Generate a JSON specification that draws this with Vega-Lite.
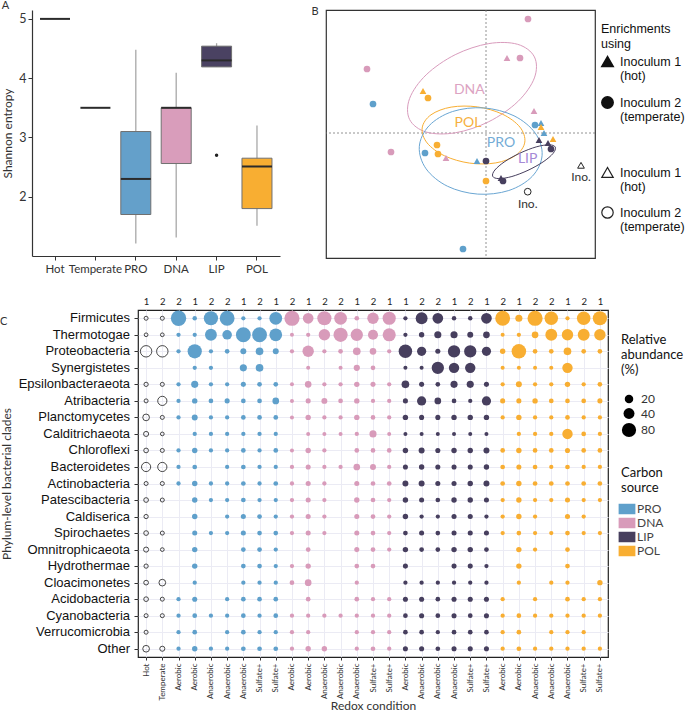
{
"$schema": "https://vega.github.io/schema/vega-lite/v6.json",
"padding": 0,
"background": "white",
"config": {
  "font": "Lato",
  "view": {"stroke": null},
  "axis": {"labelFont": "Lato", "titleFont": "Lato", "titleFontWeight": "normal", "labelColor": "#333", "titleColor": "#333", "domainColor": "#333", "tickColor": "#333"},
  "legend": {"labelFont": "Liberation Sans", "titleFont": "Liberation Sans", "titleFontWeight": "normal", "labelColor": "#111", "titleColor": "#111", "labelLimit": 300},
  "title": {"font": "Lato", "fontWeight": "normal", "fontSize": 11, "color": "#333", "anchor": "start", "frame": "bounds", "offset": 0}
},
"datasets": {
  "box": [
    {"g": "Hot", "med": 5.0},
    {"g": "Temperate", "med": 3.5},
    {"g": "PRO", "lo": 1.21, "q1": 1.70, "med": 2.30, "q3": 3.10, "hi": 4.48},
    {"g": "DNA", "lo": 1.31, "q1": 2.56, "med": 3.50, "q3": 3.50, "hi": 4.09},
    {"g": "LIP", "lo": 4.19, "q1": 4.19, "med": 4.30, "q3": 4.54, "hi": 4.59, "out": 2.70},
    {"g": "POL", "lo": 1.51, "q1": 1.80, "med": 2.51, "q3": 2.65, "hi": 3.20}
  ],
  "nmds": [
    {"g": "PRO", "ino": "Inoculum 2 (temperate)", "x": -1.13, "y": 0.29},
    {"g": "PRO", "ino": "Inoculum 2 (temperate)", "x": 0.49, "y": 0.08},
    {"g": "PRO", "ino": "Inoculum 2 (temperate)", "x": -0.61, "y": -0.20},
    {"g": "PRO", "ino": "Inoculum 2 (temperate)", "x": -0.23, "y": -1.16},
    {"g": "PRO", "ino": "Inoculum 1 (hot)", "x": 0.55, "y": 0.10},
    {"g": "PRO", "ino": "Inoculum 1 (hot)", "x": 0.58, "y": 0.0},
    {"g": "PRO", "ino": "Inoculum 1 (hot)", "x": -0.09, "y": -0.28},
    {"g": "DNA", "ino": "Inoculum 2 (temperate)", "x": 0.42, "y": 1.14},
    {"g": "DNA", "ino": "Inoculum 2 (temperate)", "x": 0.34, "y": 0.75},
    {"g": "DNA", "ino": "Inoculum 2 (temperate)", "x": -1.19, "y": 0.64},
    {"g": "DNA", "ino": "Inoculum 2 (temperate)", "x": -0.95, "y": -0.19},
    {"g": "DNA", "ino": "Inoculum 1 (hot)", "x": 0.21, "y": 0.75},
    {"g": "DNA", "ino": "Inoculum 1 (hot)", "x": 0.48, "y": 0.22},
    {"g": "DNA", "ino": "Inoculum 1 (hot)", "x": -0.40, "y": -0.25},
    {"g": "LIP", "ino": "Inoculum 1 (hot)", "x": 0.53, "y": -0.07},
    {"g": "LIP", "ino": "Inoculum 1 (hot)", "x": 0.62, "y": -0.10},
    {"g": "LIP", "ino": "Inoculum 1 (hot)", "x": 0.15, "y": -0.45},
    {"g": "LIP", "ino": "Inoculum 2 (temperate)", "x": 0.65, "y": -0.16},
    {"g": "LIP", "ino": "Inoculum 2 (temperate)", "x": 0.0, "y": -0.28},
    {"g": "LIP", "ino": "Inoculum 2 (temperate)", "x": 0.17, "y": -0.48},
    {"g": "POL", "ino": "Inoculum 1 (hot)", "x": -0.63, "y": 0.42},
    {"g": "POL", "ino": "Inoculum 1 (hot)", "x": 0.55, "y": 0.06},
    {"g": "POL", "ino": "Inoculum 1 (hot)", "x": 0.67, "y": -0.06},
    {"g": "POL", "ino": "Inoculum 2 (temperate)", "x": -0.58, "y": 0.35},
    {"g": "POL", "ino": "Inoculum 2 (temperate)", "x": -0.49, "y": -0.12},
    {"g": "POL", "ino": "Inoculum 2 (temperate)", "x": -0.48, "y": -0.21},
    {"g": "POL", "ino": "Inoculum 2 (temperate)", "x": 0.0, "y": -0.48}
  ],
  "ino": [
    {"ino": "Inoculum 1 (hot)", "x": 0.95, "y": -0.323},
    {"ino": "Inoculum 2 (temperate)", "x": 0.417, "y": -0.587}
  ],
  "elab": [
    {"g": "DNA", "x": -0.167, "y": 0.43},
    {"g": "POL", "x": -0.18, "y": 0.103},
    {"g": "PRO", "x": 0.15, "y": -0.103},
    {"g": "LIP", "x": 0.417, "y": -0.263}
  ],
  "ell": [
    {"g": "DNA", "i": 0, "x": 0.484, "y": 0.761},
    {"g": "DNA", "i": 1, "x": 0.316, "y": 0.887},
    {"g": "DNA", "i": 2, "x": 0.027, "y": 0.894},
    {"g": "DNA", "i": 3, "x": -0.308, "y": 0.783},
    {"g": "DNA", "i": 4, "x": -0.598, "y": 0.582},
    {"g": "DNA", "i": 5, "x": -0.764, "y": 0.345},
    {"g": "DNA", "i": 6, "x": -0.764, "y": 0.135},
    {"g": "DNA", "i": 7, "x": -0.596, "y": 0.009},
    {"g": "DNA", "i": 8, "x": -0.307, "y": 0.002},
    {"g": "DNA", "i": 9, "x": 0.028, "y": 0.113},
    {"g": "DNA", "i": 10, "x": 0.318, "y": 0.314},
    {"g": "DNA", "i": 11, "x": 0.484, "y": 0.551},
    {"g": "POL", "i": 0, "x": 0.388, "y": -0.091},
    {"g": "POL", "i": 1, "x": 0.339, "y": 0.059},
    {"g": "POL", "i": 2, "x": 0.165, "y": 0.188},
    {"g": "POL", "i": 3, "x": -0.086, "y": 0.261},
    {"g": "POL", "i": 4, "x": -0.348, "y": 0.259},
    {"g": "POL", "i": 5, "x": -0.550, "y": 0.182},
    {"g": "POL", "i": 6, "x": -0.638, "y": 0.051},
    {"g": "POL", "i": 7, "x": -0.589, "y": -0.099},
    {"g": "POL", "i": 8, "x": -0.415, "y": -0.228},
    {"g": "POL", "i": 9, "x": -0.164, "y": -0.301},
    {"g": "POL", "i": 10, "x": 0.098, "y": -0.299},
    {"g": "POL", "i": 11, "x": 0.300, "y": -0.222},
    {"g": "PRO", "i": 0, "x": 0.561, "y": -0.223},
    {"g": "PRO", "i": 1, "x": 0.493, "y": -0.002},
    {"g": "PRO", "i": 2, "x": 0.280, "y": 0.172},
    {"g": "PRO", "i": 3, "x": -0.023, "y": 0.251},
    {"g": "PRO", "i": 4, "x": -0.334, "y": 0.215},
    {"g": "PRO", "i": 5, "x": -0.569, "y": 0.073},
    {"g": "PRO", "i": 6, "x": -0.667, "y": -0.137},
    {"g": "PRO", "i": 7, "x": -0.599, "y": -0.358},
    {"g": "PRO", "i": 8, "x": -0.386, "y": -0.532},
    {"g": "PRO", "i": 9, "x": -0.083, "y": -0.611},
    {"g": "PRO", "i": 10, "x": 0.228, "y": -0.575},
    {"g": "PRO", "i": 11, "x": 0.463, "y": -0.433},
    {"g": "LIP", "i": 0, "x": 0.693, "y": -0.141},
    {"g": "LIP", "i": 1, "x": 0.631, "y": -0.118},
    {"g": "LIP", "i": 2, "x": 0.502, "y": -0.139},
    {"g": "LIP", "i": 3, "x": 0.340, "y": -0.201},
    {"g": "LIP", "i": 4, "x": 0.189, "y": -0.285},
    {"g": "LIP", "i": 5, "x": 0.089, "y": -0.370},
    {"g": "LIP", "i": 6, "x": 0.067, "y": -0.433},
    {"g": "LIP", "i": 7, "x": 0.129, "y": -0.456},
    {"g": "LIP", "i": 8, "x": 0.259, "y": -0.435},
    {"g": "LIP", "i": 9, "x": 0.420, "y": -0.373},
    {"g": "LIP", "i": 10, "x": 0.571, "y": -0.289},
    {"g": "LIP", "i": 11, "x": 0.671, "y": -0.204}
  ],
  "phyla": [
    {"p": "Firmicutes"}, {"p": "Thermotogae"}, {"p": "Proteobacteria"}, {"p": "Synergistetes"}, {"p": "Epsilonbacteraeota"}, {"p": "Atribacteria"}, {"p": "Planctomycetes"}, {"p": "Calditrichaeota"}, {"p": "Chloroflexi"}, {"p": "Bacteroidetes"}, {"p": "Actinobacteria"}, {"p": "Patescibacteria"}, {"p": "Caldiserica"}, {"p": "Spirochaetes"}, {"p": "Omnitrophicaeota"}, {"p": "Hydrothermae"}, {"p": "Cloacimonetes"}, {"p": "Acidobacteria"}, {"p": "Cyanobacteria"}, {"p": "Verrucomicrobia"}, {"p": "Other"}
  ],
  "cols": [
    {"c": "00", "src": "Ino"}, {"c": "01", "src": "Ino"},
    {"c": "02", "src": "PRO"}, {"c": "03", "src": "PRO"}, {"c": "04", "src": "PRO"}, {"c": "05", "src": "PRO"}, {"c": "06", "src": "PRO"}, {"c": "07", "src": "PRO"}, {"c": "08", "src": "PRO"},
    {"c": "09", "src": "DNA"}, {"c": "10", "src": "DNA"}, {"c": "11", "src": "DNA"}, {"c": "12", "src": "DNA"}, {"c": "13", "src": "DNA"}, {"c": "14", "src": "DNA"}, {"c": "15", "src": "DNA"},
    {"c": "16", "src": "LIP"}, {"c": "17", "src": "LIP"}, {"c": "18", "src": "LIP"}, {"c": "19", "src": "LIP"}, {"c": "20", "src": "LIP"}, {"c": "21", "src": "LIP"},
    {"c": "22", "src": "POL"}, {"c": "23", "src": "POL"}, {"c": "24", "src": "POL"}, {"c": "25", "src": "POL"}, {"c": "26", "src": "POL"}, {"c": "27", "src": "POL"}, {"c": "28", "src": "POL"}
  ],
  "cells": [
{"p":"Firmicutes","c":"00","v":1.5},{"p":"Firmicutes","c":"01","v":1.5},{"p":"Firmicutes","c":"02","v":98},{"p":"Firmicutes","c":"03","v":2.5},{"p":"Firmicutes","c":"04","v":80},{"p":"Firmicutes","c":"05","v":90},{"p":"Firmicutes","c":"06","v":2},{"p":"Firmicutes","c":"07","v":2},{"p":"Firmicutes","c":"08","v":60},{"p":"Firmicutes","c":"09","v":95},{"p":"Firmicutes","c":"10","v":38},{"p":"Firmicutes","c":"11","v":80},{"p":"Firmicutes","c":"12","v":60},{"p":"Firmicutes","c":"13","v":3},{"p":"Firmicutes","c":"14","v":45},{"p":"Firmicutes","c":"15","v":65},{"p":"Firmicutes","c":"16","v":2},{"p":"Firmicutes","c":"17","v":50},{"p":"Firmicutes","c":"18","v":38},{"p":"Firmicutes","c":"19","v":2.5},{"p":"Firmicutes","c":"20","v":2.5},{"p":"Firmicutes","c":"21","v":38},{"p":"Firmicutes","c":"22","v":90},{"p":"Firmicutes","c":"23","v":12},{"p":"Firmicutes","c":"24","v":95},{"p":"Firmicutes","c":"25","v":70},{"p":"Firmicutes","c":"26","v":2},{"p":"Firmicutes","c":"27","v":70},{"p":"Firmicutes","c":"28","v":80},
{"p":"Thermotogae","c":"00","v":1},{"p":"Thermotogae","c":"01","v":1},{"p":"Thermotogae","c":"02","v":2},{"p":"Thermotogae","c":"03","v":2},{"p":"Thermotogae","c":"04","v":50},{"p":"Thermotogae","c":"05","v":28},{"p":"Thermotogae","c":"06","v":90},{"p":"Thermotogae","c":"07","v":90},{"p":"Thermotogae","c":"08","v":60},{"p":"Thermotogae","c":"09","v":1.5},{"p":"Thermotogae","c":"10","v":2},{"p":"Thermotogae","c":"11","v":45},{"p":"Thermotogae","c":"12","v":80},{"p":"Thermotogae","c":"13","v":55},{"p":"Thermotogae","c":"14","v":32},{"p":"Thermotogae","c":"15","v":65},{"p":"Thermotogae","c":"16","v":2},{"p":"Thermotogae","c":"17","v":5},{"p":"Thermotogae","c":"18","v":12},{"p":"Thermotogae","c":"19","v":12},{"p":"Thermotogae","c":"20","v":7},{"p":"Thermotogae","c":"21","v":10},{"p":"Thermotogae","c":"22","v":1.5},{"p":"Thermotogae","c":"23","v":2},{"p":"Thermotogae","c":"24","v":10},{"p":"Thermotogae","c":"25","v":50},{"p":"Thermotogae","c":"26","v":45},{"p":"Thermotogae","c":"27","v":50},{"p":"Thermotogae","c":"28","v":45},
{"p":"Proteobacteria","c":"00","v":45},{"p":"Proteobacteria","c":"01","v":45},{"p":"Proteobacteria","c":"02","v":2},{"p":"Proteobacteria","c":"03","v":80},{"p":"Proteobacteria","c":"04","v":2},{"p":"Proteobacteria","c":"05","v":3},{"p":"Proteobacteria","c":"06","v":7},{"p":"Proteobacteria","c":"07","v":15},{"p":"Proteobacteria","c":"08","v":7},{"p":"Proteobacteria","c":"09","v":2},{"p":"Proteobacteria","c":"10","v":45},{"p":"Proteobacteria","c":"11","v":2},{"p":"Proteobacteria","c":"12","v":3},{"p":"Proteobacteria","c":"13","v":15},{"p":"Proteobacteria","c":"14","v":10},{"p":"Proteobacteria","c":"15","v":2},{"p":"Proteobacteria","c":"16","v":70},{"p":"Proteobacteria","c":"17","v":25},{"p":"Proteobacteria","c":"18","v":4},{"p":"Proteobacteria","c":"19","v":55},{"p":"Proteobacteria","c":"20","v":55},{"p":"Proteobacteria","c":"21","v":25},{"p":"Proteobacteria","c":"22","v":5},{"p":"Proteobacteria","c":"23","v":85},{"p":"Proteobacteria","c":"24","v":3},{"p":"Proteobacteria","c":"25","v":3},{"p":"Proteobacteria","c":"26","v":15},{"p":"Proteobacteria","c":"27","v":3},{"p":"Proteobacteria","c":"28","v":3},
{"p":"Synergistetes","c":"03","v":2},{"p":"Synergistetes","c":"04","v":2},{"p":"Synergistetes","c":"06","v":12},{"p":"Synergistetes","c":"07","v":15},{"p":"Synergistetes","c":"10","v":1.5},{"p":"Synergistetes","c":"12","v":1.5},{"p":"Synergistetes","c":"13","v":8},{"p":"Synergistetes","c":"14","v":3},{"p":"Synergistetes","c":"16","v":1.5},{"p":"Synergistetes","c":"17","v":1.5},{"p":"Synergistetes","c":"18","v":55},{"p":"Synergistetes","c":"19","v":35},{"p":"Synergistetes","c":"20","v":35},{"p":"Synergistetes","c":"22","v":1.5},{"p":"Synergistetes","c":"23","v":1.5},{"p":"Synergistetes","c":"24","v":1.5},{"p":"Synergistetes","c":"25","v":1.5},{"p":"Synergistetes","c":"26","v":35},
{"p":"Epsilonbacteraeota","c":"00","v":2},{"p":"Epsilonbacteraeota","c":"01","v":1.5},{"p":"Epsilonbacteraeota","c":"02","v":2},{"p":"Epsilonbacteraeota","c":"03","v":12},{"p":"Epsilonbacteraeota","c":"04","v":2},{"p":"Epsilonbacteraeota","c":"05","v":2},{"p":"Epsilonbacteraeota","c":"06","v":4},{"p":"Epsilonbacteraeota","c":"07","v":3},{"p":"Epsilonbacteraeota","c":"08","v":3},{"p":"Epsilonbacteraeota","c":"09","v":1.5},{"p":"Epsilonbacteraeota","c":"10","v":10},{"p":"Epsilonbacteraeota","c":"11","v":2},{"p":"Epsilonbacteraeota","c":"12","v":2},{"p":"Epsilonbacteraeota","c":"13","v":5},{"p":"Epsilonbacteraeota","c":"14","v":4},{"p":"Epsilonbacteraeota","c":"15","v":2},{"p":"Epsilonbacteraeota","c":"16","v":15},{"p":"Epsilonbacteraeota","c":"17","v":4},{"p":"Epsilonbacteraeota","c":"18","v":3},{"p":"Epsilonbacteraeota","c":"19","v":12},{"p":"Epsilonbacteraeota","c":"20","v":12},{"p":"Epsilonbacteraeota","c":"21","v":4},{"p":"Epsilonbacteraeota","c":"22","v":2},{"p":"Epsilonbacteraeota","c":"23","v":7},{"p":"Epsilonbacteraeota","c":"24","v":2},{"p":"Epsilonbacteraeota","c":"25","v":2},{"p":"Epsilonbacteraeota","c":"26","v":5},{"p":"Epsilonbacteraeota","c":"27","v":2},{"p":"Epsilonbacteraeota","c":"28","v":3},
{"p":"Atribacteria","c":"00","v":1.5},{"p":"Atribacteria","c":"01","v":25},{"p":"Atribacteria","c":"02","v":2},{"p":"Atribacteria","c":"03","v":5},{"p":"Atribacteria","c":"04","v":3},{"p":"Atribacteria","c":"05","v":4},{"p":"Atribacteria","c":"06","v":3},{"p":"Atribacteria","c":"07","v":3},{"p":"Atribacteria","c":"08","v":10},{"p":"Atribacteria","c":"09","v":1.5},{"p":"Atribacteria","c":"10","v":4},{"p":"Atribacteria","c":"11","v":7},{"p":"Atribacteria","c":"12","v":3},{"p":"Atribacteria","c":"13","v":5},{"p":"Atribacteria","c":"14","v":2},{"p":"Atribacteria","c":"15","v":2},{"p":"Atribacteria","c":"16","v":4},{"p":"Atribacteria","c":"17","v":25},{"p":"Atribacteria","c":"18","v":10},{"p":"Atribacteria","c":"19","v":3},{"p":"Atribacteria","c":"20","v":2},{"p":"Atribacteria","c":"21","v":25},{"p":"Atribacteria","c":"22","v":4},{"p":"Atribacteria","c":"23","v":4},{"p":"Atribacteria","c":"24","v":5},{"p":"Atribacteria","c":"25","v":3},{"p":"Atribacteria","c":"26","v":3},{"p":"Atribacteria","c":"27","v":3},{"p":"Atribacteria","c":"28","v":4},
{"p":"Planctomycetes","c":"00","v":10},{"p":"Planctomycetes","c":"01","v":1.5},{"p":"Planctomycetes","c":"02","v":2},{"p":"Planctomycetes","c":"03","v":7},{"p":"Planctomycetes","c":"04","v":2},{"p":"Planctomycetes","c":"05","v":2},{"p":"Planctomycetes","c":"06","v":3},{"p":"Planctomycetes","c":"07","v":3},{"p":"Planctomycetes","c":"08","v":3},{"p":"Planctomycetes","c":"09","v":1.5},{"p":"Planctomycetes","c":"10","v":5},{"p":"Planctomycetes","c":"11","v":2},{"p":"Planctomycetes","c":"12","v":2},{"p":"Planctomycetes","c":"13","v":5},{"p":"Planctomycetes","c":"14","v":3},{"p":"Planctomycetes","c":"15","v":2},{"p":"Planctomycetes","c":"16","v":5},{"p":"Planctomycetes","c":"17","v":4},{"p":"Planctomycetes","c":"18","v":4},{"p":"Planctomycetes","c":"19","v":5},{"p":"Planctomycetes","c":"20","v":5},{"p":"Planctomycetes","c":"21","v":5},{"p":"Planctomycetes","c":"22","v":2},{"p":"Planctomycetes","c":"23","v":5},{"p":"Planctomycetes","c":"24","v":2},{"p":"Planctomycetes","c":"25","v":2},{"p":"Planctomycetes","c":"26","v":3},{"p":"Planctomycetes","c":"27","v":2},{"p":"Planctomycetes","c":"28","v":2},
{"p":"Calditrichaeota","c":"00","v":4},{"p":"Calditrichaeota","c":"01","v":1},{"p":"Calditrichaeota","c":"03","v":2},{"p":"Calditrichaeota","c":"04","v":2},{"p":"Calditrichaeota","c":"05","v":2},{"p":"Calditrichaeota","c":"06","v":2},{"p":"Calditrichaeota","c":"07","v":2},{"p":"Calditrichaeota","c":"08","v":2},{"p":"Calditrichaeota","c":"10","v":1.5},{"p":"Calditrichaeota","c":"11","v":1.5},{"p":"Calditrichaeota","c":"12","v":1.5},{"p":"Calditrichaeota","c":"13","v":2},{"p":"Calditrichaeota","c":"14","v":12},{"p":"Calditrichaeota","c":"15","v":1.5},{"p":"Calditrichaeota","c":"16","v":1.5},{"p":"Calditrichaeota","c":"17","v":1.5},{"p":"Calditrichaeota","c":"18","v":1.5},{"p":"Calditrichaeota","c":"19","v":1.5},{"p":"Calditrichaeota","c":"20","v":1.5},{"p":"Calditrichaeota","c":"21","v":1.5},{"p":"Calditrichaeota","c":"23","v":2},{"p":"Calditrichaeota","c":"24","v":2},{"p":"Calditrichaeota","c":"25","v":2},{"p":"Calditrichaeota","c":"26","v":35},{"p":"Calditrichaeota","c":"27","v":3},{"p":"Calditrichaeota","c":"28","v":2},
{"p":"Chloroflexi","c":"00","v":3},{"p":"Chloroflexi","c":"01","v":1.5},{"p":"Chloroflexi","c":"02","v":2},{"p":"Chloroflexi","c":"03","v":5},{"p":"Chloroflexi","c":"04","v":2},{"p":"Chloroflexi","c":"05","v":2},{"p":"Chloroflexi","c":"06","v":3},{"p":"Chloroflexi","c":"07","v":2},{"p":"Chloroflexi","c":"08","v":3},{"p":"Chloroflexi","c":"09","v":1.5},{"p":"Chloroflexi","c":"10","v":5},{"p":"Chloroflexi","c":"11","v":2},{"p":"Chloroflexi","c":"13","v":3},{"p":"Chloroflexi","c":"14","v":3},{"p":"Chloroflexi","c":"15","v":3},{"p":"Chloroflexi","c":"16","v":5},{"p":"Chloroflexi","c":"17","v":7},{"p":"Chloroflexi","c":"18","v":4},{"p":"Chloroflexi","c":"19","v":5},{"p":"Chloroflexi","c":"20","v":5},{"p":"Chloroflexi","c":"21","v":7},{"p":"Chloroflexi","c":"22","v":3},{"p":"Chloroflexi","c":"23","v":5},{"p":"Chloroflexi","c":"24","v":3},{"p":"Chloroflexi","c":"25","v":3},{"p":"Chloroflexi","c":"26","v":4},{"p":"Chloroflexi","c":"27","v":3},{"p":"Chloroflexi","c":"28","v":3},
{"p":"Bacteroidetes","c":"00","v":25},{"p":"Bacteroidetes","c":"01","v":25},{"p":"Bacteroidetes","c":"02","v":2},{"p":"Bacteroidetes","c":"03","v":3},{"p":"Bacteroidetes","c":"05","v":2},{"p":"Bacteroidetes","c":"06","v":3},{"p":"Bacteroidetes","c":"07","v":2},{"p":"Bacteroidetes","c":"08","v":2},{"p":"Bacteroidetes","c":"09","v":2},{"p":"Bacteroidetes","c":"10","v":4},{"p":"Bacteroidetes","c":"11","v":2},{"p":"Bacteroidetes","c":"12","v":2},{"p":"Bacteroidetes","c":"13","v":10},{"p":"Bacteroidetes","c":"14","v":7},{"p":"Bacteroidetes","c":"15","v":2},{"p":"Bacteroidetes","c":"16","v":4},{"p":"Bacteroidetes","c":"17","v":5},{"p":"Bacteroidetes","c":"18","v":4},{"p":"Bacteroidetes","c":"19","v":4},{"p":"Bacteroidetes","c":"20","v":4},{"p":"Bacteroidetes","c":"21","v":5},{"p":"Bacteroidetes","c":"22","v":3},{"p":"Bacteroidetes","c":"23","v":4},{"p":"Bacteroidetes","c":"24","v":3},{"p":"Bacteroidetes","c":"25","v":2},{"p":"Bacteroidetes","c":"26","v":3},{"p":"Bacteroidetes","c":"27","v":2},{"p":"Bacteroidetes","c":"28","v":2},
{"p":"Actinobacteria","c":"00","v":1.5},{"p":"Actinobacteria","c":"01","v":1.5},{"p":"Actinobacteria","c":"02","v":2},{"p":"Actinobacteria","c":"03","v":5},{"p":"Actinobacteria","c":"04","v":2},{"p":"Actinobacteria","c":"05","v":2},{"p":"Actinobacteria","c":"06","v":3},{"p":"Actinobacteria","c":"07","v":2},{"p":"Actinobacteria","c":"08","v":3},{"p":"Actinobacteria","c":"09","v":2},{"p":"Actinobacteria","c":"10","v":4},{"p":"Actinobacteria","c":"11","v":2},{"p":"Actinobacteria","c":"13","v":4},{"p":"Actinobacteria","c":"14","v":3},{"p":"Actinobacteria","c":"15","v":3},{"p":"Actinobacteria","c":"16","v":7},{"p":"Actinobacteria","c":"17","v":7},{"p":"Actinobacteria","c":"18","v":4},{"p":"Actinobacteria","c":"19","v":4},{"p":"Actinobacteria","c":"20","v":5},{"p":"Actinobacteria","c":"21","v":7},{"p":"Actinobacteria","c":"22","v":3},{"p":"Actinobacteria","c":"23","v":5},{"p":"Actinobacteria","c":"24","v":3},{"p":"Actinobacteria","c":"25","v":3},{"p":"Actinobacteria","c":"26","v":3},{"p":"Actinobacteria","c":"27","v":3},{"p":"Actinobacteria","c":"28","v":3},
{"p":"Patescibacteria","c":"00","v":3},{"p":"Patescibacteria","c":"01","v":1.5},{"p":"Patescibacteria","c":"03","v":5},{"p":"Patescibacteria","c":"04","v":2},{"p":"Patescibacteria","c":"05","v":2},{"p":"Patescibacteria","c":"06","v":3},{"p":"Patescibacteria","c":"07","v":2},{"p":"Patescibacteria","c":"08","v":2},{"p":"Patescibacteria","c":"09","v":2},{"p":"Patescibacteria","c":"10","v":4},{"p":"Patescibacteria","c":"11","v":2},{"p":"Patescibacteria","c":"13","v":5},{"p":"Patescibacteria","c":"14","v":3},{"p":"Patescibacteria","c":"15","v":2},{"p":"Patescibacteria","c":"16","v":5},{"p":"Patescibacteria","c":"17","v":4},{"p":"Patescibacteria","c":"18","v":3},{"p":"Patescibacteria","c":"19","v":5},{"p":"Patescibacteria","c":"20","v":5},{"p":"Patescibacteria","c":"21","v":4},{"p":"Patescibacteria","c":"22","v":2},{"p":"Patescibacteria","c":"23","v":5},{"p":"Patescibacteria","c":"24","v":2},{"p":"Patescibacteria","c":"25","v":2},{"p":"Patescibacteria","c":"26","v":4},{"p":"Patescibacteria","c":"27","v":2},{"p":"Patescibacteria","c":"28","v":2},
{"p":"Caldiserica","c":"00","v":2},{"p":"Caldiserica","c":"03","v":5},{"p":"Caldiserica","c":"05","v":2},{"p":"Caldiserica","c":"06","v":4},{"p":"Caldiserica","c":"07","v":3},{"p":"Caldiserica","c":"08","v":2},{"p":"Caldiserica","c":"09","v":2},{"p":"Caldiserica","c":"10","v":4},{"p":"Caldiserica","c":"11","v":2},{"p":"Caldiserica","c":"13","v":4},{"p":"Caldiserica","c":"14","v":3},{"p":"Caldiserica","c":"15","v":2},{"p":"Caldiserica","c":"16","v":5},{"p":"Caldiserica","c":"17","v":2},{"p":"Caldiserica","c":"18","v":2},{"p":"Caldiserica","c":"19","v":4},{"p":"Caldiserica","c":"20","v":4},{"p":"Caldiserica","c":"21","v":2},{"p":"Caldiserica","c":"22","v":2},{"p":"Caldiserica","c":"23","v":5},{"p":"Caldiserica","c":"24","v":2},{"p":"Caldiserica","c":"26","v":4},{"p":"Caldiserica","c":"27","v":2},
{"p":"Spirochaetes","c":"00","v":3},{"p":"Spirochaetes","c":"01","v":1.5},{"p":"Spirochaetes","c":"03","v":4},{"p":"Spirochaetes","c":"04","v":2},{"p":"Spirochaetes","c":"05","v":2},{"p":"Spirochaetes","c":"06","v":4},{"p":"Spirochaetes","c":"07","v":3},{"p":"Spirochaetes","c":"08","v":3},{"p":"Spirochaetes","c":"09","v":2},{"p":"Spirochaetes","c":"10","v":4},{"p":"Spirochaetes","c":"11","v":2},{"p":"Spirochaetes","c":"13","v":4},{"p":"Spirochaetes","c":"14","v":3},{"p":"Spirochaetes","c":"15","v":2},{"p":"Spirochaetes","c":"16","v":3},{"p":"Spirochaetes","c":"17","v":4},{"p":"Spirochaetes","c":"18","v":3},{"p":"Spirochaetes","c":"19","v":4},{"p":"Spirochaetes","c":"20","v":4},{"p":"Spirochaetes","c":"21","v":4},{"p":"Spirochaetes","c":"22","v":2},{"p":"Spirochaetes","c":"23","v":3},{"p":"Spirochaetes","c":"24","v":2},{"p":"Spirochaetes","c":"25","v":2},{"p":"Spirochaetes","c":"26","v":3},{"p":"Spirochaetes","c":"27","v":2},{"p":"Spirochaetes","c":"28","v":2},
{"p":"Omnitrophicaeota","c":"00","v":4},{"p":"Omnitrophicaeota","c":"01","v":1},{"p":"Omnitrophicaeota","c":"03","v":5},{"p":"Omnitrophicaeota","c":"06","v":3},{"p":"Omnitrophicaeota","c":"07","v":3},{"p":"Omnitrophicaeota","c":"08","v":2},{"p":"Omnitrophicaeota","c":"10","v":3},{"p":"Omnitrophicaeota","c":"13","v":4},{"p":"Omnitrophicaeota","c":"14","v":3},{"p":"Omnitrophicaeota","c":"15","v":2},{"p":"Omnitrophicaeota","c":"16","v":5},{"p":"Omnitrophicaeota","c":"17","v":3},{"p":"Omnitrophicaeota","c":"18","v":3},{"p":"Omnitrophicaeota","c":"19","v":5},{"p":"Omnitrophicaeota","c":"20","v":5},{"p":"Omnitrophicaeota","c":"21","v":3},{"p":"Omnitrophicaeota","c":"23","v":5},{"p":"Omnitrophicaeota","c":"24","v":2},{"p":"Omnitrophicaeota","c":"26","v":3},
{"p":"Hydrothermae","c":"00","v":2},{"p":"Hydrothermae","c":"03","v":5},{"p":"Hydrothermae","c":"06","v":3},{"p":"Hydrothermae","c":"07","v":3},{"p":"Hydrothermae","c":"08","v":2},{"p":"Hydrothermae","c":"09","v":2},{"p":"Hydrothermae","c":"10","v":5},{"p":"Hydrothermae","c":"13","v":3},{"p":"Hydrothermae","c":"14","v":3},{"p":"Hydrothermae","c":"16","v":4},{"p":"Hydrothermae","c":"19","v":4},{"p":"Hydrothermae","c":"20","v":4},{"p":"Hydrothermae","c":"21","v":2},{"p":"Hydrothermae","c":"23","v":5},{"p":"Hydrothermae","c":"26","v":3},
{"p":"Cloacimonetes","c":"00","v":3},{"p":"Cloacimonetes","c":"01","v":10},{"p":"Cloacimonetes","c":"03","v":2},{"p":"Cloacimonetes","c":"06","v":2},{"p":"Cloacimonetes","c":"07","v":2},{"p":"Cloacimonetes","c":"08","v":2},{"p":"Cloacimonetes","c":"09","v":3},{"p":"Cloacimonetes","c":"10","v":10},{"p":"Cloacimonetes","c":"13","v":2},{"p":"Cloacimonetes","c":"16","v":2},{"p":"Cloacimonetes","c":"17","v":2},{"p":"Cloacimonetes","c":"18","v":2},{"p":"Cloacimonetes","c":"19","v":2},{"p":"Cloacimonetes","c":"20","v":2},{"p":"Cloacimonetes","c":"21","v":2},{"p":"Cloacimonetes","c":"23","v":2},{"p":"Cloacimonetes","c":"25","v":2},{"p":"Cloacimonetes","c":"26","v":2},{"p":"Cloacimonetes","c":"28","v":5},
{"p":"Acidobacteria","c":"00","v":3},{"p":"Acidobacteria","c":"01","v":1.5},{"p":"Acidobacteria","c":"02","v":2},{"p":"Acidobacteria","c":"03","v":4},{"p":"Acidobacteria","c":"05","v":2},{"p":"Acidobacteria","c":"06","v":3},{"p":"Acidobacteria","c":"07","v":3},{"p":"Acidobacteria","c":"08","v":3},{"p":"Acidobacteria","c":"10","v":3},{"p":"Acidobacteria","c":"13","v":3},{"p":"Acidobacteria","c":"14","v":2},{"p":"Acidobacteria","c":"15","v":2},{"p":"Acidobacteria","c":"16","v":4},{"p":"Acidobacteria","c":"17","v":4},{"p":"Acidobacteria","c":"18","v":3},{"p":"Acidobacteria","c":"19","v":4},{"p":"Acidobacteria","c":"20","v":4},{"p":"Acidobacteria","c":"21","v":4},{"p":"Acidobacteria","c":"22","v":2},{"p":"Acidobacteria","c":"24","v":2},{"p":"Acidobacteria","c":"26","v":3},{"p":"Acidobacteria","c":"27","v":2},{"p":"Acidobacteria","c":"28","v":2},
{"p":"Cyanobacteria","c":"00","v":1.5},{"p":"Cyanobacteria","c":"01","v":1.5},{"p":"Cyanobacteria","c":"02","v":2},{"p":"Cyanobacteria","c":"03","v":3},{"p":"Cyanobacteria","c":"04","v":2},{"p":"Cyanobacteria","c":"05","v":2},{"p":"Cyanobacteria","c":"06","v":3},{"p":"Cyanobacteria","c":"07","v":2},{"p":"Cyanobacteria","c":"08","v":3},{"p":"Cyanobacteria","c":"09","v":2},{"p":"Cyanobacteria","c":"10","v":2},{"p":"Cyanobacteria","c":"11","v":2},{"p":"Cyanobacteria","c":"12","v":2},{"p":"Cyanobacteria","c":"13","v":2},{"p":"Cyanobacteria","c":"14","v":2},{"p":"Cyanobacteria","c":"15","v":2},{"p":"Cyanobacteria","c":"16","v":3},{"p":"Cyanobacteria","c":"17","v":4},{"p":"Cyanobacteria","c":"18","v":3},{"p":"Cyanobacteria","c":"19","v":4},{"p":"Cyanobacteria","c":"20","v":3},{"p":"Cyanobacteria","c":"21","v":4},{"p":"Cyanobacteria","c":"22","v":2},{"p":"Cyanobacteria","c":"23","v":3},{"p":"Cyanobacteria","c":"24","v":2},{"p":"Cyanobacteria","c":"25","v":2},{"p":"Cyanobacteria","c":"26","v":2},{"p":"Cyanobacteria","c":"27","v":2},{"p":"Cyanobacteria","c":"28","v":2},
{"p":"Verrucomicrobia","c":"00","v":1.5},{"p":"Verrucomicrobia","c":"02","v":2},{"p":"Verrucomicrobia","c":"03","v":3},{"p":"Verrucomicrobia","c":"05","v":2},{"p":"Verrucomicrobia","c":"06","v":3},{"p":"Verrucomicrobia","c":"07","v":2},{"p":"Verrucomicrobia","c":"08","v":2},{"p":"Verrucomicrobia","c":"09","v":2},{"p":"Verrucomicrobia","c":"10","v":2},{"p":"Verrucomicrobia","c":"13","v":2},{"p":"Verrucomicrobia","c":"14","v":2},{"p":"Verrucomicrobia","c":"15","v":2},{"p":"Verrucomicrobia","c":"16","v":3},{"p":"Verrucomicrobia","c":"17","v":3},{"p":"Verrucomicrobia","c":"18","v":2},{"p":"Verrucomicrobia","c":"19","v":3},{"p":"Verrucomicrobia","c":"20","v":3},{"p":"Verrucomicrobia","c":"21","v":3},{"p":"Verrucomicrobia","c":"22","v":2},{"p":"Verrucomicrobia","c":"23","v":3},{"p":"Verrucomicrobia","c":"25","v":2},{"p":"Verrucomicrobia","c":"26","v":2},{"p":"Verrucomicrobia","c":"27","v":2},
{"p":"Other","c":"00","v":10},{"p":"Other","c":"01","v":4},{"p":"Other","c":"02","v":2},{"p":"Other","c":"03","v":5},{"p":"Other","c":"04","v":2},{"p":"Other","c":"05","v":2},{"p":"Other","c":"06","v":3},{"p":"Other","c":"07","v":3},{"p":"Other","c":"08","v":3},{"p":"Other","c":"09","v":2},{"p":"Other","c":"10","v":5},{"p":"Other","c":"11","v":5},{"p":"Other","c":"13","v":2},{"p":"Other","c":"14","v":3},{"p":"Other","c":"15","v":2},{"p":"Other","c":"16","v":4},{"p":"Other","c":"17","v":4},{"p":"Other","c":"18","v":3},{"p":"Other","c":"19","v":4},{"p":"Other","c":"20","v":4},{"p":"Other","c":"21","v":4},{"p":"Other","c":"22","v":2},{"p":"Other","c":"23","v":3},{"p":"Other","c":"24","v":2},{"p":"Other","c":"25","v":2},{"p":"Other","c":"26","v":2},{"p":"Other","c":"27","v":2},{"p":"Other","c":"28","v":2}
  ]
},
"spacing": 20,
"resolve": {"scale": {"color": "independent", "size": "independent", "shape": "independent"}, "legend": {"color": "independent", "size": "independent", "shape": "independent"}},
"vconcat": [
 {
  "spacing": 31,
  "resolve": {"scale": {"color": "independent", "size": "independent", "shape": "independent"}, "legend": {"color": "independent", "size": "independent", "shape": "independent"}},
  "hconcat": [
   {
    "title": {"text": "A", "offset": 2, "dy": 3},
    "width": 248, "height": 246,
    "data": {"name": "box"},
    "encoding": {
      "x": {"field": "g", "type": "nominal", "sort": ["Hot", "Temperate", "PRO", "DNA", "LIP", "POL"],
            "scale": {"paddingOuter": 0.07, "paddingInner": 0},
            "axis": {"title": null, "labelAngle": 0, "labelFontSize": 11.5, "labelOverlap": false, "tickSize": 4, "labelPadding": 3, "domainWidth": 1.2}}
    },
    "layer": [
      {"mark": {"type": "rule", "color": "#a8a8a8", "strokeWidth": 1.3},
       "encoding": {
         "y": {"field": "lo", "type": "quantitative", "scale": {"domain": [1.0, 5.15], "nice": false, "zero": false},
               "axis": {"values": [2, 3, 4, 5], "format": "d", "title": "Shannon entropy", "grid": false, "titleFontSize": 12, "labelFontSize": 12.5, "tickSize": 4, "titlePadding": 4, "domainWidth": 1.2}},
         "y2": {"field": "hi"}}},
      {"mark": {"type": "bar", "size": 30, "stroke": "#707070", "strokeWidth": 1},
       "encoding": {
         "y": {"field": "q1", "type": "quantitative", "scale": {"domain": [1.0, 5.15], "nice": false, "zero": false}},
         "y2": {"field": "q3"},
         "color": {"field": "g", "type": "nominal", "scale": {"domain": ["PRO", "DNA", "LIP", "POL"], "range": ["#64a0ca", "#d99dbb", "#4a4262", "#f8ae32"]}, "legend": null}}},
      {"mark": {"type": "tick", "size": 30, "thickness": 2, "color": "#2b2b2b", "opacity": 1},
       "encoding": {"y": {"field": "med", "type": "quantitative", "scale": {"domain": [1.0, 5.15], "nice": false, "zero": false}}}},
      {"mark": {"type": "circle", "size": 12, "color": "#222", "opacity": 1},
       "encoding": {"y": {"field": "out", "type": "quantitative", "scale": {"domain": [1.0, 5.15], "nice": false, "zero": false}}}}
    ]
   },
   {
    "title": {"text": "B", "dx": -14, "offset": -7},
    "width": 269, "height": 248,
    "view": {"stroke": "#333", "strokeWidth": 1.2},
    "layer": [
      {"data": {"values": [{}]}, "mark": {"type": "rule", "strokeDash": [2, 2], "color": "#777", "strokeWidth": 0.8},
       "encoding": {"x": {"datum": 0, "type": "quantitative", "scale": {"domain": [-1.6, 1.09], "nice": false, "zero": false}, "axis": null}}},
      {"data": {"values": [{}]}, "mark": {"type": "rule", "strokeDash": [2, 2], "color": "#777", "strokeWidth": 0.8},
       "encoding": {"y": {"datum": 0, "type": "quantitative", "scale": {"domain": [-1.25, 1.23], "nice": false, "zero": false}, "axis": null}}},
      {"data": {"name": "ell"}, "mark": {"type": "line", "interpolate": "cardinal-closed", "strokeWidth": 1},
       "encoding": {
         "x": {"field": "x", "type": "quantitative", "scale": {"domain": [-1.6, 1.09], "nice": false, "zero": false}, "axis": null},
         "y": {"field": "y", "type": "quantitative", "scale": {"domain": [-1.25, 1.23], "nice": false, "zero": false}, "axis": null},
         "order": {"field": "i", "type": "quantitative"},
         "color": {"field": "g", "type": "nominal", "scale": {"domain": ["PRO", "DNA", "LIP", "POL"], "range": ["#6aa6d3", "#d99cbd", "#473f5e", "#f8ae32"]}, "legend": null}}},
      {"data": {"name": "elab"}, "mark": {"type": "text", "fontSize": 14, "font": "Lato"},
       "encoding": {
         "x": {"field": "x", "type": "quantitative", "scale": {"domain": [-1.6, 1.09], "nice": false, "zero": false}, "axis": null},
         "y": {"field": "y", "type": "quantitative", "scale": {"domain": [-1.25, 1.23], "nice": false, "zero": false}, "axis": null},
         "text": {"field": "g"},
         "color": {"field": "g", "type": "nominal", "scale": {"domain": ["PRO", "DNA", "LIP", "POL"], "range": ["#74acd6", "#dca3c2", "#a58ad6", "#f6b040"]}, "legend": null}}},
      {"data": {"name": "nmds"}, "mark": {"type": "point", "filled": true, "size": 45, "opacity": 1},
       "encoding": {
         "x": {"field": "x", "type": "quantitative", "scale": {"domain": [-1.6, 1.09], "nice": false, "zero": false}, "axis": null},
         "y": {"field": "y", "type": "quantitative", "scale": {"domain": [-1.25, 1.23], "nice": false, "zero": false}, "axis": null},
         "shape": {"field": "ino", "type": "nominal", "scale": {"domain": ["Inoculum 1 (hot)", "Inoculum 2 (temperate)"], "range": ["triangle-up", "circle"]},
                   "legend": {"title": ["Enrichments", "using"], "symbolFillColor": "#111", "symbolStrokeColor": "#111", "symbolSize": 130, "symbolOpacity": 1,
                              "labelExpr": "[slice(datum.label, 0, 10), slice(datum.label, 11)]", "labelFontSize": 12.5, "titleFontSize": 12.5,
                              "labelOffset": 6, "rowPadding": 10, "padding": 13, "offset": -7}},
         "color": {"field": "g", "type": "nominal", "scale": {"domain": ["PRO", "DNA", "LIP", "POL"], "range": ["#5fa0cb", "#d89bba", "#473f5e", "#f8ae32"]}, "legend": null}}},
      {"data": {"name": "ino"}, "mark": {"type": "point", "filled": false, "size": 45, "color": "#222", "strokeWidth": 1, "opacity": 1},
       "encoding": {
         "x": {"field": "x", "type": "quantitative", "scale": {"domain": [-1.6, 1.09], "nice": false, "zero": false}, "axis": null},
         "y": {"field": "y", "type": "quantitative", "scale": {"domain": [-1.25, 1.23], "nice": false, "zero": false}, "axis": null},
         "shape": {"field": "ino", "type": "nominal", "scale": {"domain": ["Inoculum 1 (hot)", "Inoculum 2 (temperate)"], "range": ["triangle-up", "circle"]},
                   "legend": {"title": " ", "titleFontSize": 8, "titlePadding": 0, "symbolStrokeColor": "#222", "symbolStrokeWidth": 1.2, "symbolSize": 130,
                              "labelExpr": "[slice(datum.label, 0, 10), slice(datum.label, 11)]", "labelFontSize": 12.5,
                              "labelOffset": 6, "rowPadding": 10, "padding": 13, "offset": -7}}}},
      {"data": {"name": "ino"}, "mark": {"type": "text", "dy": 12, "fontSize": 12, "font": "Lato", "color": "#333"},
       "encoding": {
         "x": {"field": "x", "type": "quantitative", "scale": {"domain": [-1.6, 1.09], "nice": false, "zero": false}, "axis": null},
         "y": {"field": "y", "type": "quantitative", "scale": {"domain": [-1.25, 1.23], "nice": false, "zero": false}, "axis": null},
         "text": {"value": "Ino."}}}
    ],
    "resolve": {"scale": {"color": "independent", "shape": "independent"}}
   }
  ]
 },
 {
  "title": {"text": "C", "dy": 36},
  "spacing": 0,
  "hconcat": [
   {
    "width": 100, "height": 347,
    "data": {"name": "phyla"},
    "mark": {"type": "text", "align": "right", "baseline": "middle", "font": "Liberation Sans", "fontSize": 13, "color": "#111", "dx": -2},
    "encoding": {
      "y": {"field": "p", "type": "nominal",
            "sort": ["Firmicutes", "Thermotogae", "Proteobacteria", "Synergistetes", "Epsilonbacteraeota", "Atribacteria", "Planctomycetes", "Calditrichaeota", "Chloroflexi", "Bacteroidetes", "Actinobacteria", "Patescibacteria", "Caldiserica", "Spirochaetes", "Omnitrophicaeota", "Hydrothermae", "Cloacimonetes", "Acidobacteria", "Cyanobacteria", "Verrucomicrobia", "Other"],
            "scale": {"paddingOuter": 0.1, "paddingInner": 0},
            "axis": {"title": "Phylum-level bacterial clades", "titleFontSize": 12, "titlePadding": 19, "labels": false, "ticks": false, "domain": false, "grid": false}},
      "x": {"datum": 1, "type": "quantitative", "scale": {"domain": [0, 1], "nice": false, "zero": false}, "axis": null},
      "text": {"field": "p"}
    }
   },
   {
    "width": 470, "height": 347,
    "view": {"stroke": "#222", "strokeWidth": 1.2},
    "data": {"name": "cells"},
    "transform": [{"lookup": "c", "from": {"data": {"name": "cols"}, "key": "c", "fields": ["src"]}}],
    "layer": [
      {"mark": {"type": "circle", "opacity": 0, "color": "#000"},
       "encoding": {
         "x": {"field": "c", "type": "ordinal", "scale": {"paddingOuter": 0.1, "paddingInner": 0},
               "axis": {"orient": "bottom", "title": "Redox condition", "titleFontSize": 12, "titlePadding": 0,
                        "labelExpr": "split('Hot,Temperate,Aerobic,Aerobic,Anaerobic,Anaerobic,Anaerobic,Sulfate+,Sulfate+,Aerobic,Aerobic,Anaerobic,Anaerobic,Anaerobic,Sulfate+,Sulfate+,Aerobic,Anaerobic,Anaerobic,Anaerobic,Sulfate+,Sulfate+,Aerobic,Aerobic,Anaerobic,Anaerobic,Anaerobic,Sulfate+,Sulfate+', ',')[toNumber(datum.value)]",
                        "labelAngle": -90, "labelFontSize": 8, "labelPadding": 3, "tickSize": 3, "grid": true, "gridColor": "#ebebf4", "gridWidth": 1, "bandPosition": 0.5, "domain": false, "labelOverlap": false}},
         "y": {"field": "p", "type": "nominal",
               "sort": ["Firmicutes", "Thermotogae", "Proteobacteria", "Synergistetes", "Epsilonbacteraeota", "Atribacteria", "Planctomycetes", "Calditrichaeota", "Chloroflexi", "Bacteroidetes", "Actinobacteria", "Patescibacteria", "Caldiserica", "Spirochaetes", "Omnitrophicaeota", "Hydrothermae", "Cloacimonetes", "Acidobacteria", "Cyanobacteria", "Verrucomicrobia", "Other"],
               "scale": {"paddingOuter": 0.1, "paddingInner": 0},
               "axis": {"title": null, "labels": false, "tickSize": 4, "grid": true, "gridColor": "#ebebf4", "bandPosition": 0.5, "domain": false}},
         "size": {"field": "v", "type": "quantitative", "scale": {"type": "pow", "exponent": 0.8, "domain": [0, 100], "range": [8, 240]},
                  "legend": {"title": [" ", "Relative", "abundance", "(%)"], "titleLineHeight": 15, "values": [20, 40, 80], "symbolFillColor": "#000", "symbolStrokeColor": "#000", "symbolOpacity": 1, "symbolType": "circle",
                             "titleFont": "Lato", "titleFontSize": 13, "labelFont": "Lato", "labelFontSize": 12, "labelColor": "#333", "rowPadding": -3, "titlePadding": 16, "offset": 3, "padding": 9}}}},
      {"transform": [{"filter": "datum.src == 'Ino'"}],
       "mark": {"type": "circle", "filled": false, "color": "#333", "strokeWidth": 0.9, "opacity": 1},
       "encoding": {
         "x": {"field": "c", "type": "ordinal", "scale": {"paddingOuter": 0.1, "paddingInner": 0}, "axis": null},
         "y": {"field": "p", "type": "nominal",
               "sort": ["Firmicutes", "Thermotogae", "Proteobacteria", "Synergistetes", "Epsilonbacteraeota", "Atribacteria", "Planctomycetes", "Calditrichaeota", "Chloroflexi", "Bacteroidetes", "Actinobacteria", "Patescibacteria", "Caldiserica", "Spirochaetes", "Omnitrophicaeota", "Hydrothermae", "Cloacimonetes", "Acidobacteria", "Cyanobacteria", "Verrucomicrobia", "Other"],
               "scale": {"paddingOuter": 0.1, "paddingInner": 0}},
         "size": {"field": "v", "type": "quantitative", "scale": {"type": "pow", "exponent": 0.8, "domain": [0, 100], "range": [8, 240]}, "legend": null}}},
      {"transform": [{"filter": "datum.src != 'Ino'"}],
       "mark": {"type": "circle", "opacity": 1},
       "encoding": {
         "x": {"field": "c", "type": "ordinal", "scale": {"paddingOuter": 0.1, "paddingInner": 0},
               "axis": {"orient": "top", "title": null,
                        "labelExpr": "split('1,2,2,1,2,2,1,2,1,2,1,2,2,1,2,1,1,2,2,1,2,1,2,1,2,2,1,2,1', ',')[toNumber(datum.value)]",
                        "labelAngle": 0, "labelFontSize": 9.5, "labelPadding": 4, "ticks": false, "grid": false, "domain": false, "bandPosition": 0.5, "labelColor": "#222"}},
         "y": {"field": "p", "type": "nominal",
               "sort": ["Firmicutes", "Thermotogae", "Proteobacteria", "Synergistetes", "Epsilonbacteraeota", "Atribacteria", "Planctomycetes", "Calditrichaeota", "Chloroflexi", "Bacteroidetes", "Actinobacteria", "Patescibacteria", "Caldiserica", "Spirochaetes", "Omnitrophicaeota", "Hydrothermae", "Cloacimonetes", "Acidobacteria", "Cyanobacteria", "Verrucomicrobia", "Other"],
               "scale": {"paddingOuter": 0.1, "paddingInner": 0}},
         "size": {"field": "v", "type": "quantitative", "scale": {"type": "pow", "exponent": 0.8, "domain": [0, 100], "range": [8, 240]}, "legend": null},
         "color": {"field": "src", "type": "nominal", "scale": {"domain": ["PRO", "DNA", "LIP", "POL"], "range": ["#5fa0cb", "#d89bba", "#473f5e", "#f8ae32"]},
                   "legend": {"title": ["Carbon", "source"], "titleLineHeight": 15, "symbolType": "M-1.6,-1L1.6,-1L1.6,1L-1.6,1Z", "symbolSize": 110, "symbolStrokeWidth": 0, "symbolOpacity": 1,
                              "titleFont": "Lato", "titleFontSize": 13, "labelFont": "Lato", "labelFontSize": 12, "labelColor": "#444", "rowPadding": 2, "titlePadding": 8, "offset": 3, "padding": 9}}}}
    ],
    "resolve": {"axis": {"x": "independent"}}
   }
  ]
 }
]
}
